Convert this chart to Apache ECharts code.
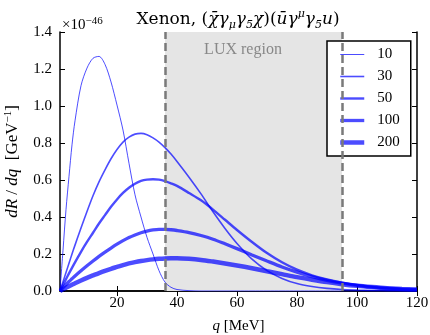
<!DOCTYPE html>
<html>
<head>
<meta charset="utf-8">
<script src="https://cdn.jsdelivr.net/npm/echarts@6.0.0/dist/echarts.min.js"></script>
<style>
html, body { margin: 0; padding: 0; background: #fff; }
#main { width: 430px; height: 335px; }
</style>
</head>
<body>
<div id="main"></div>
<script>
var FONT = 'Liberation Serif';
var TITLE_FONT = 'DejaVu Serif';

// q [MeV]
var Q = [1, 2, 3, 4, 5, 6, 8, 10, 12, 14, 16, 18, 20, 22, 24, 26, 28, 30, 32, 34, 36, 38, 40,
    44, 48, 52, 56, 60, 65, 70, 75, 80, 85, 90, 95, 100, 105, 110, 115, 120];

// dR/dq, units of 1e-46 GeV^-1
var R10 = [0, 0.22, 0.44, 0.62, 0.79, 0.92, 1.11, 1.205, 1.258, 1.268, 1.225, 1.13, 1.005, 0.87, 0.69, 0.52,
    0.40, 0.29, 0.20, 0.11, 0.048, 0.02, 0.008,
    0.002, 0, 0, 0, 0, 0, 0, 0, 0, 0, 0, 0, 0, 0, 0, 0, 0];
var R30 = [0, 0.05, 0.10, 0.15, 0.20, 0.248, 0.34, 0.43, 0.515, 0.59, 0.655, 0.715, 0.765, 0.805, 0.832, 0.848,
    0.852, 0.845, 0.828, 0.805, 0.775, 0.74, 0.70,
    0.615, 0.525, 0.428, 0.338, 0.257, 0.172, 0.11, 0.068, 0.04, 0.024, 0.014, 0.008, 0.005, 0.003, 0.002, 0.001, 0.001];
var R50 = [0, 0.032, 0.064, 0.095, 0.125, 0.155, 0.212, 0.265, 0.315, 0.365, 0.41, 0.455, 0.495, 0.53, 0.558, 0.58,
    0.595, 0.602, 0.604, 0.602, 0.594, 0.582, 0.568,
    0.53, 0.49, 0.44, 0.385, 0.33, 0.265, 0.205, 0.155, 0.115, 0.085, 0.062, 0.045, 0.032, 0.022, 0.015, 0.01, 0.007];
var R100 = [0, 0.018, 0.035, 0.051, 0.066, 0.081, 0.109, 0.136, 0.162, 0.187, 0.21, 0.232, 0.253, 0.272, 0.289, 0.303,
    0.315, 0.324, 0.33, 0.333, 0.333, 0.331, 0.327,
    0.316, 0.30, 0.28, 0.255, 0.229, 0.195, 0.162, 0.13, 0.102, 0.078, 0.058, 0.042, 0.03, 0.021, 0.015, 0.01, 0.007];
var R200 = [0, 0.009, 0.018, 0.026, 0.034, 0.042, 0.057, 0.071, 0.084, 0.097, 0.109, 0.12, 0.13, 0.14, 0.149, 0.156,
    0.162, 0.167, 0.171, 0.174, 0.176, 0.177, 0.177,
    0.174, 0.168, 0.159, 0.149, 0.138, 0.123, 0.107, 0.091, 0.075, 0.061, 0.048, 0.037, 0.028, 0.021, 0.015, 0.011, 0.008];

var NAMES = ['10', '30', '50', '100', '200'];
var WIDTHS = [1, 1.6, 2.4, 3.3, 4.5];
var LUX = [36, 95];
var X_TICKS = [20, 40, 60, 80, 100, 120];

var BLUE = 'rgba(0, 0, 255, 0.7)';

function pairs(vals) {
    return Q.map(function (q, i) {
        return [q, vals[i]];
    });
}

var chart = echarts.init(document.getElementById('main'), null, {renderer: 'canvas'});

// shaded LUX band + dashed edges, drawn under the curves
var series = [{
    type: 'line',
    data: [],
    z: 1,
    silent: true,
    markArea: {
        silent: true,
        itemStyle: {color: '#e5e5e5'},
        label: {show: false},
        data: [[{xAxis: LUX[0]}, {xAxis: LUX[1]}]]
    },
    markLine: {
        silent: true,
        symbol: 'none',
        label: {show: false},
        lineStyle: {color: '#7a7a7a', width: 2.5, type: [8, 4]},
        data: [{xAxis: LUX[0]}, {xAxis: LUX[1]}]
    }
}];

[R10, R30, R50, R100, R200].forEach(function (vals, i) {
    series.push({
        name: NAMES[i],
        type: 'line',
        data: pairs(vals),
        symbol: 'none',
        smooth: 0.3,
        z: 3,
        lineStyle: {color: BLUE, width: WIDTHS[i]},
        itemStyle: {color: BLUE}
    });
});

var axisLine = {show: true, lineStyle: {color: '#000', width: 1.5}};
var tickStyle = {color: '#000', width: 1};

var option = {
    animation: false,
    backgroundColor: '#fff',
    grid: {left: 60, right: 13, top: 32, bottom: 44, outerBoundsMode: 'none'},
    xAxis: [{
        type: 'value',
        min: 1,
        max: 120,
        position: 'bottom',
        axisLine: axisLine,
        axisTick: {inside: true, length: 5, customValues: X_TICKS, lineStyle: tickStyle},
        axisLabel: {customValues: X_TICKS, fontFamily: FONT, fontSize: 15, color: '#000', margin: 5},
        splitLine: {show: false},
        name: '{i|q} [MeV]',
        nameLocation: 'middle',
        nameGap: 28,
        nameTextStyle: {
            fontFamily: FONT, fontSize: 15, color: '#000',
            rich: {i: {fontFamily: FONT, fontSize: 15, fontStyle: 'italic', color: '#000'}}
        }
    }, {
        type: 'value',
        min: 1,
        max: 120,
        position: 'top',
        axisLine: axisLine,
        axisTick: {inside: true, length: 5, customValues: X_TICKS, lineStyle: tickStyle},
        axisLabel: {show: false},
        splitLine: {show: false}
    }],
    yAxis: [{
        type: 'value',
        min: 0,
        max: 1.4,
        interval: 0.2,
        position: 'left',
        axisLine: axisLine,
        axisTick: {inside: true, length: 5, lineStyle: tickStyle},
        axisLabel: {
            fontFamily: FONT, fontSize: 15, color: '#000', margin: 8,
            formatter: function (v) {
                return v.toFixed(1);
            }
        },
        splitLine: {show: false},
        name: '{i|dR} / {i|dq}  [GeV{sup|−1}]',
        nameLocation: 'middle',
        nameRotate: 90,
        nameGap: 34,
        nameTextStyle: {
            fontFamily: FONT, fontSize: 17, color: '#000', lineHeight: 20,
            rich: {
                i: {fontFamily: FONT, fontSize: 17, fontStyle: 'italic', color: '#000', lineHeight: 20},
                sup: {fontFamily: FONT, fontSize: 11, color: '#000', verticalAlign: 'top', lineHeight: 11}
            }
        }
    }, {
        type: 'value',
        min: 0,
        max: 1.4,
        interval: 0.2,
        position: 'right',
        axisLine: axisLine,
        axisTick: {inside: true, length: 5, lineStyle: tickStyle},
        axisLabel: {show: false},
        splitLine: {show: false}
    }],
    legend: {
        data: NAMES.map(function (n, i) {
            return {name: n, lineStyle: {width: WIDTHS[i], color: BLUE}};
        }),
        orient: 'vertical',
        left: 327,
        top: 41,
        itemWidth: 24,
        itemHeight: 14,
        itemGap: 7,
        padding: [6, 11, 6, 11],
        backgroundColor: '#fff',
        borderColor: '#000',
        borderWidth: 1.5,
        borderRadius: 0,
        selectedMode: false,
        itemStyle: {opacity: 0},
        textStyle: {fontFamily: FONT, fontSize: 15, color: '#000', padding: [0, 0, 0, 8]}
    },
    graphic: [{
        type: 'text',
        x: 238,
        y: 20,
        style: {
            text: 'Xenon, ({i|χ̄}{i|γ}{sub|μ}{i|γ}{sub|5}{i|χ})({i|ū}{i|γ}{sup|μ}{i|γ}{sub|5}{i|u})',
            align: 'center',
            verticalAlign: 'middle',
            fontFamily: TITLE_FONT,
            fontSize: 17,
            lineHeight: 22,
            fill: '#000',
            rich: {
                i: {fontFamily: TITLE_FONT, fontSize: 17, fontStyle: 'italic', lineHeight: 22},
                sub: {fontFamily: TITLE_FONT, fontSize: 11, fontStyle: 'italic', verticalAlign: 'bottom', lineHeight: 12},
                sup: {fontFamily: TITLE_FONT, fontSize: 11, fontStyle: 'italic', verticalAlign: 'top', lineHeight: 12}
            }
        }
    }, {
        type: 'text',
        x: 62,
        y: 25,
        style: {
            text: '×10{sup|−46}',
            align: 'left',
            verticalAlign: 'middle',
            fontFamily: FONT,
            fontSize: 15,
            lineHeight: 18,
            fill: '#000',
            rich: {
                sup: {fontFamily: FONT, fontSize: 11, verticalAlign: 'top', lineHeight: 11}
            }
        }
    }, {
        type: 'text',
        x: 243,
        y: 50,
        z: 2,
        style: {
            text: 'LUX region',
            align: 'center',
            verticalAlign: 'middle',
            fontFamily: FONT,
            fontSize: 16,
            fill: '#888'
        }
    }],
    series: series
};

chart.setOption(option);
</script>
</body>
</html>
